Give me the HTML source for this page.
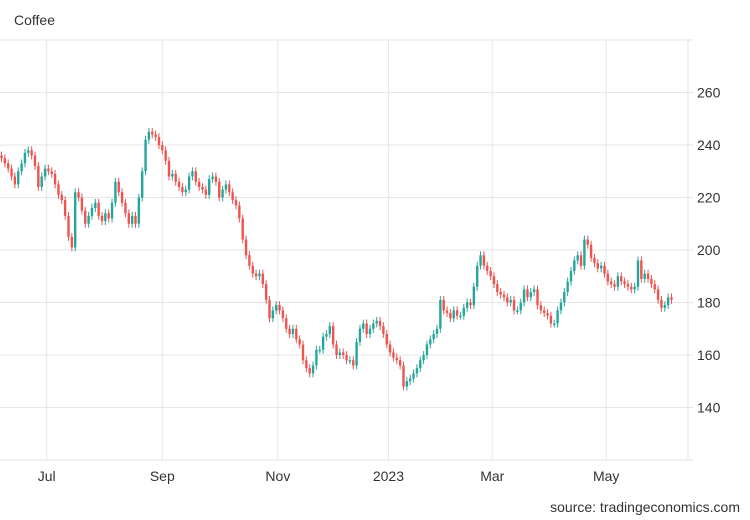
<!DOCTYPE html>
<html><head><meta charset="utf-8"><style>
body{margin:0;background:#fff;}
svg{display:block;font-family:"Liberation Sans",sans-serif;}
</style></head><body>
<svg id="chart" width="750" height="520">
<text x="14" y="25" font-size="14" fill="#333">Coffee</text>
<g id="grid"></g>
<g id="candles"></g>
<g id="axes"></g>
<text x="740" y="512" font-size="14" fill="#333" text-anchor="end">source: tradingeconomics.com</text>
</svg>
<script>
const yTicks=[140,160,180,200,220,240,260];
const xTickLabels=["Jul","Sep","Nov","2023","Mar","May"];
const xTickIndex=[13.5,48,82.5,115.5,146.5,180.5];
const closes=[235,233,231,228,225,230,233,237,238,236,
232,224,228,231,230,229,225,221,219,213,
205,201,222,220,215,210,213,216,218,213,
211,214,212,218,226,222,218,214,210,213,
210,220,230,242,245,244,243,240,238,234,
228,229,226,224,222,223,228,230,226,224,
223,221,227,228,226,220,223,225,222,219,
217,212,204,198,194,191,190,191,187,181,
174,177,179,177,174,170,168,170,166,164,
158,155,153,156,162,162,167,168,171,164,
160,161,160,158,158,156,165,170,172,168,
170,172,173,171,168,164,161,159,158,156,
148,150,151,153,155,158,160,164,166,168,
170,181,177,176,174,177,175,175,178,180,
179,186,194,198,194,192,190,187,184,183,
182,180,181,177,177,180,185,182,184,185,
179,177,176,175,172,172,177,180,184,188,
192,196,198,194,204,202,197,195,193,194,
191,188,187,186,190,188,187,186,185,186,
196,189,191,189,187,185,181,178,179,182,181];
const opens=[236].concat(closes.slice(0,-1));

const NS="http://www.w3.org/2000/svg";
const L=0,R=688,T=40,B=460,yMin=120,yMax=280;
const y=v=>B-(v-yMin)/(yMax-yMin)*(B-T);
const step=3.35;
const x=i=>1.5+i*step;
function mk(tag,attrs,parent){const e=document.createElementNS(NS,tag);for(const k in attrs)e.setAttribute(k,attrs[k]);parent.appendChild(e);return e;}
const grid=document.getElementById('grid'),cg=document.getElementById('candles'),ax=document.getElementById('axes');
[120,...yTicks,280].forEach(v=>{
  const ln=mk('line',{x1:L,x2:693,y1:y(v),y2:y(v),stroke:'#e6e6e6','stroke-width':1},grid);
  
  
});
const rl=mk('line',{x1:R,x2:R,y1:T,y2:B,stroke:'#e6e6e6'},grid);


yTicks.forEach(v=>{
  const t=mk('text',{x:697,y:y(v)+5,'font-size':14,fill:'#333'},ax);
  t.textContent=v;
  
  
});
xTickLabels.forEach((lab,k)=>{
  const xx=x(xTickIndex[k]);
  const ln=mk('line',{x1:xx,x2:xx,y1:T,y2:B,stroke:'#e6e6e6'},grid);
  
  
  const t=mk('text',{x:xx,y:481,'font-size':14,fill:'#333','text-anchor':'middle'},ax);
  t.textContent=lab;
  
  
});
closes.forEach((c,i)=>{
  const o=opens[i];
  const up=c>=o;
  const col=up?'#26a69a':'#ef5350';
  const hi=Math.max(o,c)+1.5, lo=Math.min(o,c)-1.5;
  const g=mk('g',{},cg);
  
  
  mk('line',{x1:x(i),x2:x(i),y1:y(hi),y2:y(lo),stroke:col,'stroke-width':1},g);
  const top=y(Math.max(o,c)),bot=y(Math.min(o,c));
  mk('rect',{x:x(i)-1.2,y:top,width:2.4,height:Math.max(1.5,bot-top),fill:col},g);
});
</script>
</body></html>
